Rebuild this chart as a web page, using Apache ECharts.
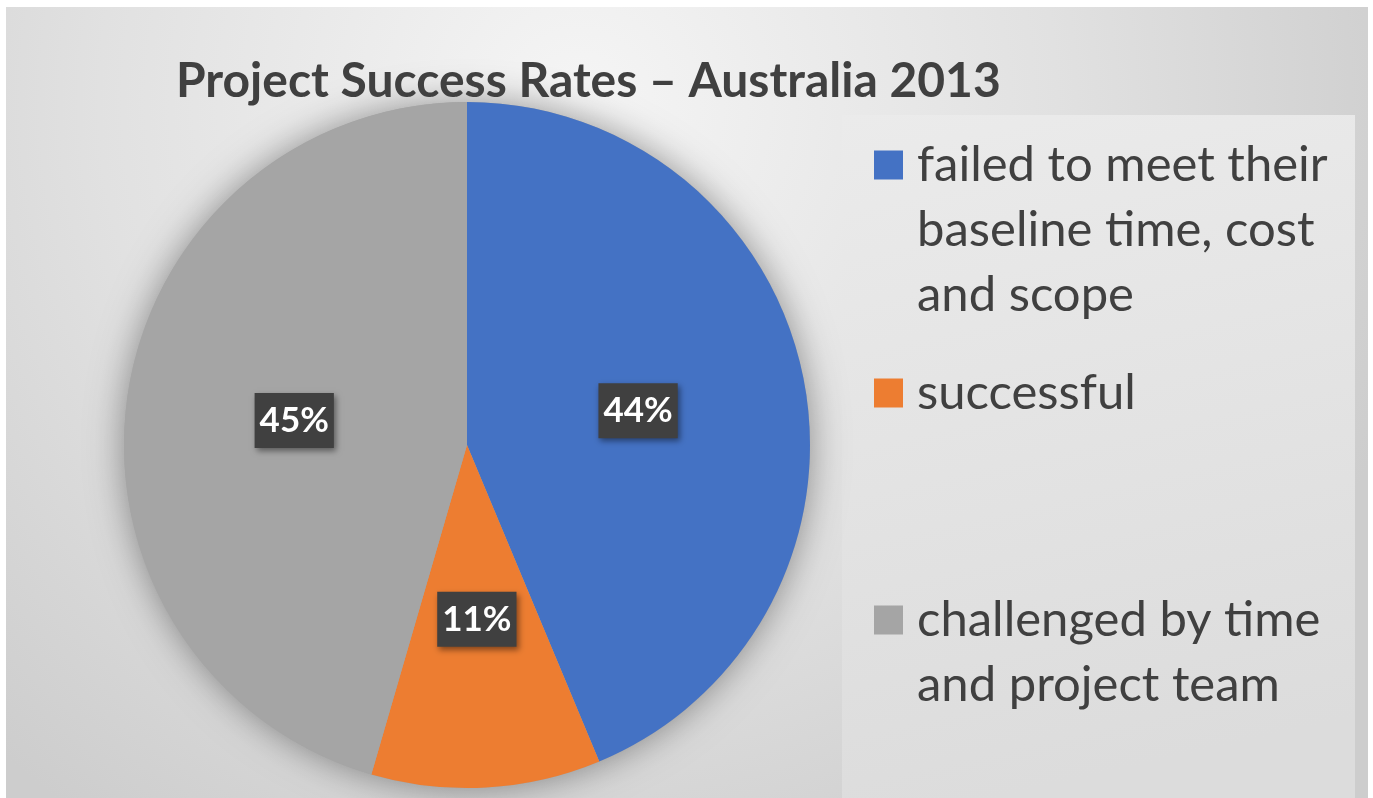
<!DOCTYPE html>
<html>
<head>
<meta charset="utf-8">
<title>Project Success Rates – Australia 2013</title>
<script src="https://cdn.jsdelivr.net/npm/echarts@6/dist/echarts.min.js"></script>
<style>
  html, body { margin: 0; padding: 0; background: #fff; }
  #chart { width: 1373px; height: 798px; }
</style>
</head>
<body>
<div id="chart"></div>
<script>
'use strict';

var categories = [
  'failed to meet their\nbaseline time, cost\nand scope',
  'successful',
  'challenged by time\nand project team'
];
var values = [43.7, 10.8, 45.5];
var colors = ['#4472c4', '#ed7d31', '#a5a5a5'];

var titleText = 'Project Success Rates \u2013 Australia 2013';
var textColor = '#404040';
var fontFamily = 'Lato, "Open Sans", sans-serif';

var pieCenter = [467, 445];
var pieRadius = 343;

// one legend per entry; blank lines above the name keep the square
// level with the first line of text
function legendFor(name, firstLineY) {
  var lines = name.split('\n').length;
  var lh = 65;
  var total = 2 * lines - 1;
  return {
    data: [name],
    orient: 'vertical',
    left: 874,
    top: firstLineY - total * lh / 2,
    padding: 0,
    itemWidth: 29,
    itemHeight: 29,
    icon: 'rect',
    selectedMode: false,
    formatter: function (n) {
      return new Array(lines).join('\n') + n;
    },
    textStyle: {
      color: textColor,
      fontFamily: fontFamily,
      fontSize: 49,
      lineHeight: lh,
      padding: [0, 0, 0, 9]
    }
  };
}

var chart = echarts.init(document.getElementById('chart'));

var option = {
  backgroundColor: '#ffffff',
  color: colors,
  animation: false,
  title: {
    text: titleText,
    left: 176,
    top: 58,
    padding: 0,
    textStyle: {
      color: textColor,
      fontFamily: fontFamily,
      fontWeight: 'bold',
      fontSize: 48
    }
  },
  graphic: [{
    type: 'rect',
    z: -10,
    silent: true,
    shape: { x: 6, y: 7, width: 1362, height: 791 },
    style: {
      fill: {
        type: 'radial', x: 0.42, y: 0.12, r: 1.1,
        colorStops: [
          { offset: 0, color: '#f5f5f5' },
          { offset: 0.55, color: '#e1e1e1' },
          { offset: 1, color: '#cdcdcd' }
        ]
      }
    }
  }, {
    type: 'rect',
    z: -9,
    silent: true,
    shape: { x: 842, y: 115, width: 513, height: 683 },
    style: {
      fill: {
        type: 'linear', x: 0, y: 0, x2: 0.3, y2: 1,
        colorStops: [
          { offset: 0, color: '#ebebeb' },
          { offset: 1, color: '#dcdcdc' }
        ]
      }
    }
  }],
  legend: [
    legendFor(categories[0], 165),
    legendFor(categories[1], 393),
    legendFor(categories[2], 620)
  ],
  series: [{
    // soft halo under the pie
    type: 'pie',
    silent: true,
    z: 1,
    center: pieCenter,
    radius: pieRadius,
    label: { show: false },
    labelLine: { show: false },
    itemStyle: {
      color: '#a5a5a5',
      shadowBlur: 36,
      shadowColor: 'rgba(0, 0, 0, 0.4)'
    },
    data: [{ value: 1, name: '' }]
  }, {
    name: titleText,
    type: 'pie',
    z: 2,
    center: pieCenter,
    radius: pieRadius,
    startAngle: 90,
    clockwise: true,
    percentPrecision: 0,
    avoidLabelOverlap: false,
    emphasis: { disabled: true },
    label: {
      show: true,
      position: 'inside',
      formatter: '{d}%',
      color: '#ffffff',
      fontFamily: fontFamily,
      fontWeight: 'bold',
      fontSize: 35,
      backgroundColor: '#404040',
      padding: [12, 5, 8, 5],
      shadowColor: 'rgba(0, 0, 0, 0.45)',
      shadowBlur: 6,
      shadowOffsetX: 2,
      shadowOffsetY: 3
    },
    labelLine: { show: false },
    data: categories.map(function (name, i) {
      return { name: name, value: values[i] };
    })
  }]
};

chart.setOption(option);
</script>
</body>
</html>
